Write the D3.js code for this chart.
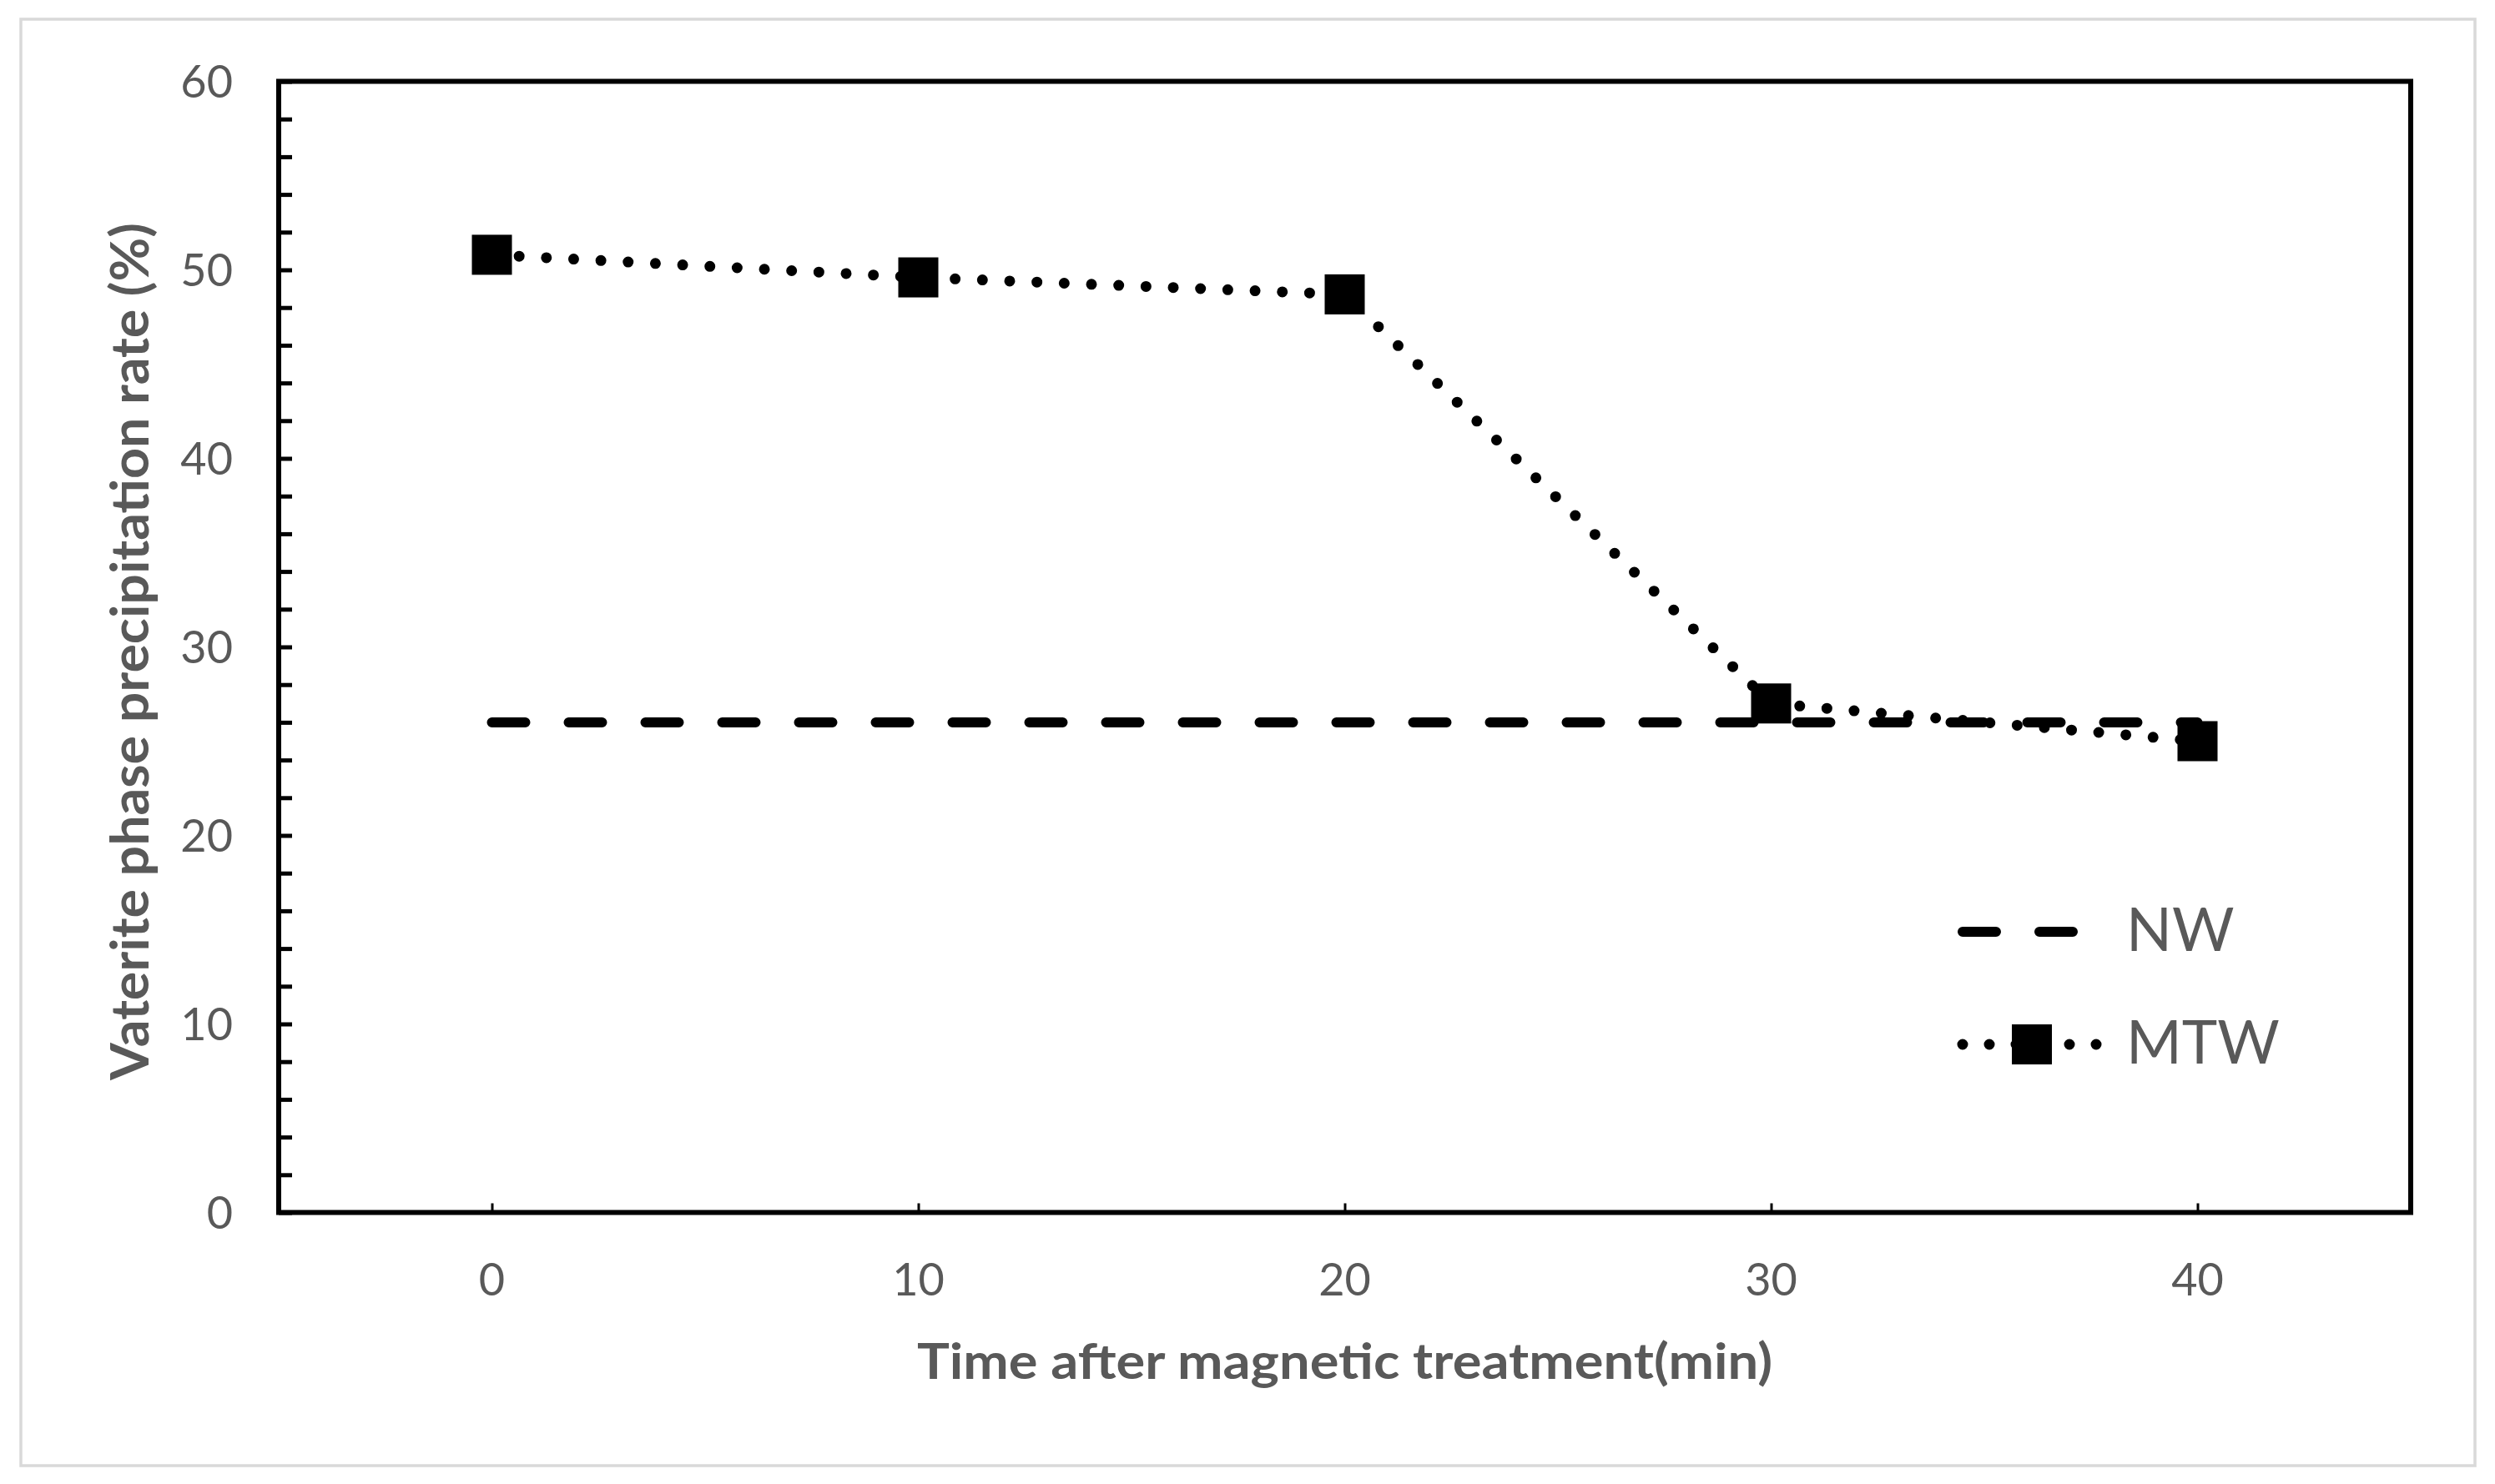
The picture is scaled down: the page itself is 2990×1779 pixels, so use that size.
<!DOCTYPE html>
<html>
<head>
<meta charset="utf-8">
<script src="https://cdn.jsdelivr.net/npm/d3@7"></script>
<style>
  html, body { margin: 0; padding: 0; background: #ffffff; }
  svg { display: block; }
</style>
</head>
<body>
<script>
// ---------- data ----------
const times = [0, 10, 20, 30, 40];
const nwValues = [26, 26, 26, 26, 26];
const mtwValues = [50.8, 49.6, 48.7, 27.0, 25.0];
const seriesNames = ["NW", "MTW"];
const yTickLabels = [0, 10, 20, 30, 40, 50, 60];
const yMinorTicks = d3.range(0, 61, 2);
const xTitle = "Time after magnetic treatment(min)";
const yTitle = "Vaterite phase precipitation rate (%)";

// ---------- layout ----------
const W = 2990, H = 1779;
const plot = { left: 334, right: 2889, top: 97.5, bottom: 1453.5 };
const textColor = "#595959";
const font = "Lato, 'Open Sans', sans-serif";

const svg = d3.select("body").append("svg")
  .attr("width", W).attr("height", H)
  .attr("viewBox", `0 0 ${W} ${H}`);

svg.append("rect").attr("width", W).attr("height", H).attr("fill", "#fff");

// outer chart border
svg.append("rect")
  .attr("x", 25).attr("y", 23).attr("width", 2941).attr("height", 1734)
  .attr("fill", "none").attr("stroke", "#d9d9d9").attr("stroke-width", 3.5);

const x = d3.scaleLinear().domain([-5, 45]).range([plot.left, plot.right]);
const y = d3.scaleLinear().domain([0, 60]).range([plot.bottom, plot.top]);

// y minor ticks (inward)
const yAxis = d3.axisLeft(y).tickValues(yMinorTicks).tickSize(-16).tickFormat("");
const gy = svg.append("g").attr("transform", `translate(${plot.left},0)`).call(yAxis);
gy.select(".domain").remove();
gy.selectAll(".tick line").attr("stroke", "#000").attr("stroke-width", 5);

// x ticks (inward)
const xAxis = d3.axisBottom(x).tickValues(times).tickSize(-11).tickFormat("");
const gx = svg.append("g").attr("transform", `translate(0,${plot.bottom})`).call(xAxis);
gx.select(".domain").remove();
gx.selectAll(".tick line").attr("stroke", "#000").attr("stroke-width", 3);

// plot frame
svg.append("rect")
  .attr("x", plot.left).attr("y", plot.top)
  .attr("width", plot.right - plot.left).attr("height", plot.bottom - plot.top)
  .attr("fill", "none").attr("stroke", "#000").attr("stroke-width", 6);

// y tick labels
svg.append("g").selectAll("text").data(yTickLabels).join("text")
  .attr("x", 279).attr("y", d => y(d) + 19.5)
  .attr("text-anchor", "end")
  .attr("font-family", font).attr("font-size", 54).attr("fill", textColor)
  .text(d => d);

// x tick labels
svg.append("g").selectAll("text").data(times).join("text")
  .attr("x", d => x(d)).attr("y", 1553)
  .attr("text-anchor", "middle")
  .attr("font-family", font).attr("font-size", 54).attr("fill", textColor)
  .text(d => d);

// axis titles
svg.append("text")
  .attr("x", (plot.left + plot.right) / 2).attr("y", 1653)
  .attr("text-anchor", "middle")
  .attr("font-family", font).attr("font-weight", "bold").attr("font-size", 60)
  .attr("fill", textColor)
  .attr("textLength", 1025).attr("lengthAdjust", "spacingAndGlyphs")
  .text(xTitle);

svg.append("text")
  .attr("transform", `translate(178,781) rotate(-90)`)
  .attr("text-anchor", "middle")
  .attr("font-family", font).attr("font-weight", "bold").attr("font-size", 63)
  .attr("fill", textColor)
  .attr("textLength", 1028).attr("lengthAdjust", "spacingAndGlyphs")
  .text(yTitle);

// ---------- series ----------
const line = d3.line().x(d => x(d[0])).y(d => y(d[1]));
const nwData = times.map((t, i) => [t, nwValues[i]]);
const mtwData = times.map((t, i) => [t, mtwValues[i]]);

svg.append("path").datum(nwData)
  .attr("d", line).attr("fill", "none").attr("stroke", "#000")
  .attr("stroke-width", 12).attr("stroke-linecap", "round")
  .attr("stroke-dasharray", "40 52");

svg.append("path").datum(mtwData)
  .attr("d", line).attr("fill", "none").attr("stroke", "#000")
  .attr("stroke-width", 13).attr("stroke-linecap", "round")
  .attr("stroke-dasharray", "0 32.7");

const ms = 48;
svg.append("g").selectAll("rect").data(mtwData).join("rect")
  .attr("x", d => x(d[0]) - ms / 2).attr("y", d => y(d[1]) - ms / 2)
  .attr("width", ms).attr("height", ms).attr("fill", "#000");

// ---------- legend ----------
const legX1 = 2352, legX2 = 2522, legTextX = 2548;
const legRows = [
  { name: seriesNames[0], y: 1117, dash: "40 52", sw: 12, marker: false },
  { name: seriesNames[1], y: 1252, dash: "0 32", sw: 13, marker: true }
];
const lg = svg.append("g");
legRows.forEach(r => {
  lg.append("line")
    .attr("x1", legX1).attr("x2", legX2).attr("y1", r.y).attr("y2", r.y)
    .attr("stroke", "#000").attr("stroke-width", r.sw)
    .attr("stroke-linecap", "round").attr("stroke-dasharray", r.dash);
  if (r.marker) {
    lg.append("rect")
      .attr("x", (legX1 + legX2) / 2 - ms / 2 - 2).attr("y", r.y - ms / 2)
      .attr("width", ms).attr("height", ms).attr("fill", "#000");
  }
  lg.append("text")
    .attr("x", legTextX).attr("y", r.y + 23)
    .attr("font-family", font).attr("font-size", 72).attr("fill", textColor)
    .text(r.name);
});
</script>
</body>
</html>
